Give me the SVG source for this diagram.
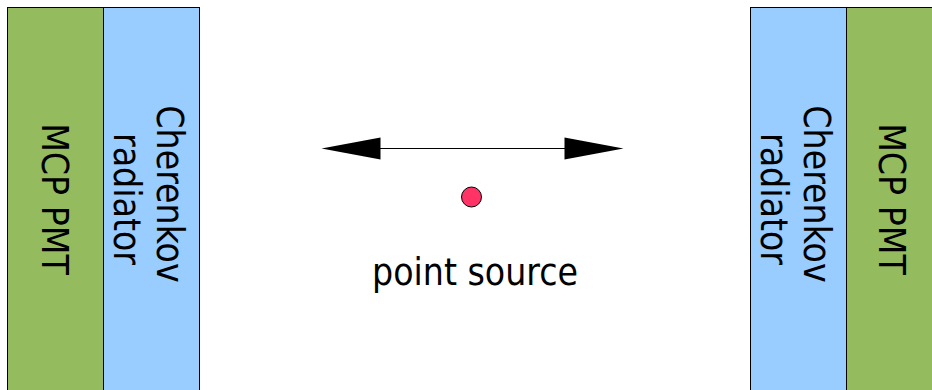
<svg xmlns="http://www.w3.org/2000/svg" width="932" height="390" viewBox="0 0 932 390">
<style>
.pmt{fill:#94bc5e;stroke:#000;stroke-width:1}
.rad{fill:#99ccff;stroke:#000;stroke-width:1}
.lbl{font-family:"DejaVu Sans Condensed","DejaVu Sans","Liberation Sans",sans-serif;font-size:37px;fill:#000;text-anchor:middle}
.conn{stroke:#000;stroke-width:1;fill:none}
.head{fill:#000}
</style>
<rect x="0" y="0" width="932" height="390" fill="#fff"/>
<g id="pmt-left">
<rect class="pmt" x="7.5" y="7.5" width="96" height="400"/>
<text class="lbl" transform="translate(42,199) rotate(90)">MCP PMT</text>
</g>
<g id="radiator-left">
<rect class="rad" x="103.5" y="7.5" width="96" height="400"/>
<text class="lbl" transform="translate(157,194) rotate(90)">Cherenkov</text>
<text class="lbl" transform="translate(114,199) rotate(90)">radiator</text>
</g>
<g id="radiator-right">
<rect class="rad" x="750.5" y="7.5" width="96" height="400"/>
<text class="lbl" transform="translate(804,194) rotate(90)">Cherenkov</text>
<text class="lbl" transform="translate(761,199) rotate(90)">radiator</text>
</g>
<g id="pmt-right">
<rect class="pmt" x="846.5" y="7.5" width="100" height="400"/>
<text class="lbl" transform="translate(879,199) rotate(90)">MCP PMT</text>
</g>
<g id="point-source">
<circle cx="471.5" cy="197" r="10" fill="#ff3366" stroke="#000" stroke-width="1"/>
<text class="lbl" x="475" y="285">point source</text>
</g>
<g id="connectors">
<line class="conn" x1="380" y1="148.5" x2="565" y2="148.5"/>
<polygon class="head" points="321.5,148.5 380.5,137.5 380.5,159.5"/>
<polygon class="head" points="623.5,148.5 564.5,137.5 564.5,159.5"/>
</g>
</svg>
